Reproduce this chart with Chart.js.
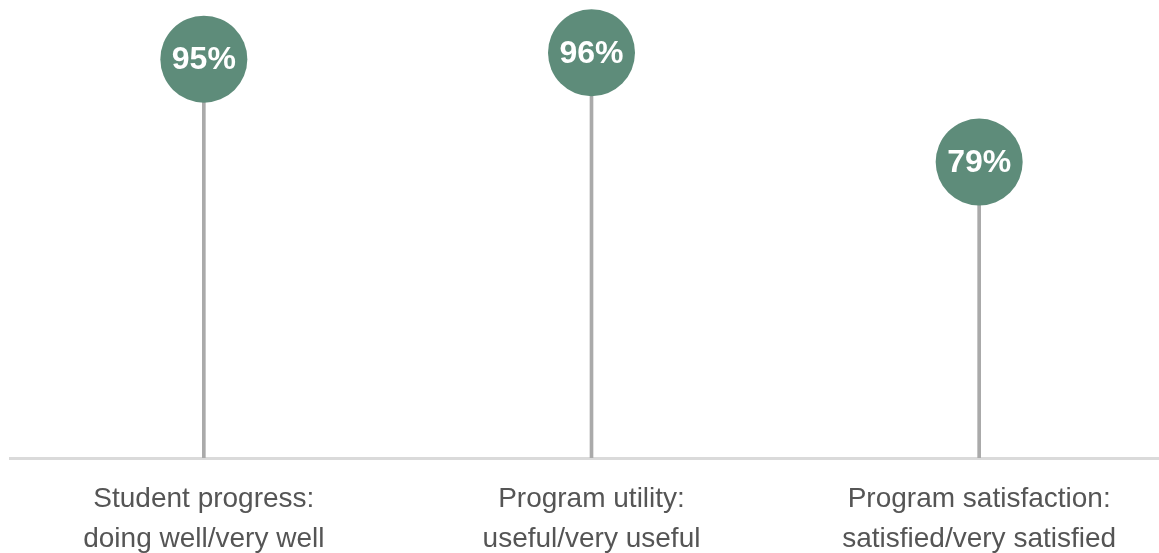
<!DOCTYPE html>
<html>
<head>
<meta charset="utf-8">
<script src="https://cdn.jsdelivr.net/npm/chart.js@4/dist/chart.umd.min.js"></script>
<style>
    html, body { margin: 0; padding: 0; background: #fff; overflow: hidden; }
    #wrap { width: 1173px; height: 557px; }
</style>
</head>
<body>
<div id="wrap"><canvas id="lollipopChart" width="1173" height="557"></canvas></div>
<script>
// Survey results, one lollipop per question
const categories = [
    ['Student progress:', 'doing well/very well'],
    ['Program utility:', 'useful/very useful'],
    ['Program satisfaction:', 'satisfied/very satisfied']
];
const percentValues = [95, 96, 79];

const dotColor = '#5e8c7a';
const stemColor = '#aaaaaa';
const fontFamily = '"Liberation Sans", Arial, Helvetica, sans-serif';

// Writes the percentage inside each circle
const dotLabels = {
    id: 'dotLabels',
    afterDatasetsDraw(chart) {
        const meta = chart.getDatasetMeta(0);
        const ctx = chart.ctx;
        ctx.save();
        ctx.fillStyle = '#ffffff';
        ctx.font = 'bold 32px ' + fontFamily;
        ctx.textAlign = 'center';
        ctx.textBaseline = 'middle';
        meta.data.forEach((pt, i) => {
            ctx.fillText(percentValues[i] + '%', pt.x, pt.y + 1);
        });
        ctx.restore();
    }
};

const ctx = document.getElementById('lollipopChart').getContext('2d');

new Chart(ctx, {
    data: {
        labels: categories,
        datasets: [
            {
                // the heads
                type: 'line',
                data: percentValues,
                showLine: false,
                pointRadius: 43.5,
                pointHoverRadius: 43.5,
                pointBackgroundColor: dotColor,
                pointBorderWidth: 0,
                clip: false,
                order: 0
            },
            {
                // the stems
                type: 'bar',
                data: percentValues,
                backgroundColor: stemColor,
                barThickness: 3,
                order: 1
            }
        ]
    },
    options: {
        responsive: false,
        animation: false,
        layout: {
            autoPadding: false,
            padding: { top: 27, left: 10, right: 0, bottom: 0 }
        },
        plugins: {
            legend: { display: false },
            tooltip: { enabled: false }
        },
        scales: {
            x: {
                offset: true,
                grid: { display: false },
                border: { display: true, color: '#dadada', width: 3 },
                ticks: {
                    color: '#555555',
                    padding: 13,
                    maxRotation: 0,
                    autoSkip: false,
                    font: { family: fontFamily, size: 28, lineHeight: 1.43 }
                },
                afterFit(scale) {
                    // fixed axis band, labels may run to the canvas edge
                    scale.height = 99;
                    scale.paddingLeft = 0;
                    scale.paddingRight = 0;
                }
            },
            y: {
                display: false,
                min: 33,
                max: 100
            }
        }
    },
    plugins: [dotLabels]
});
</script>
</body>
</html>
